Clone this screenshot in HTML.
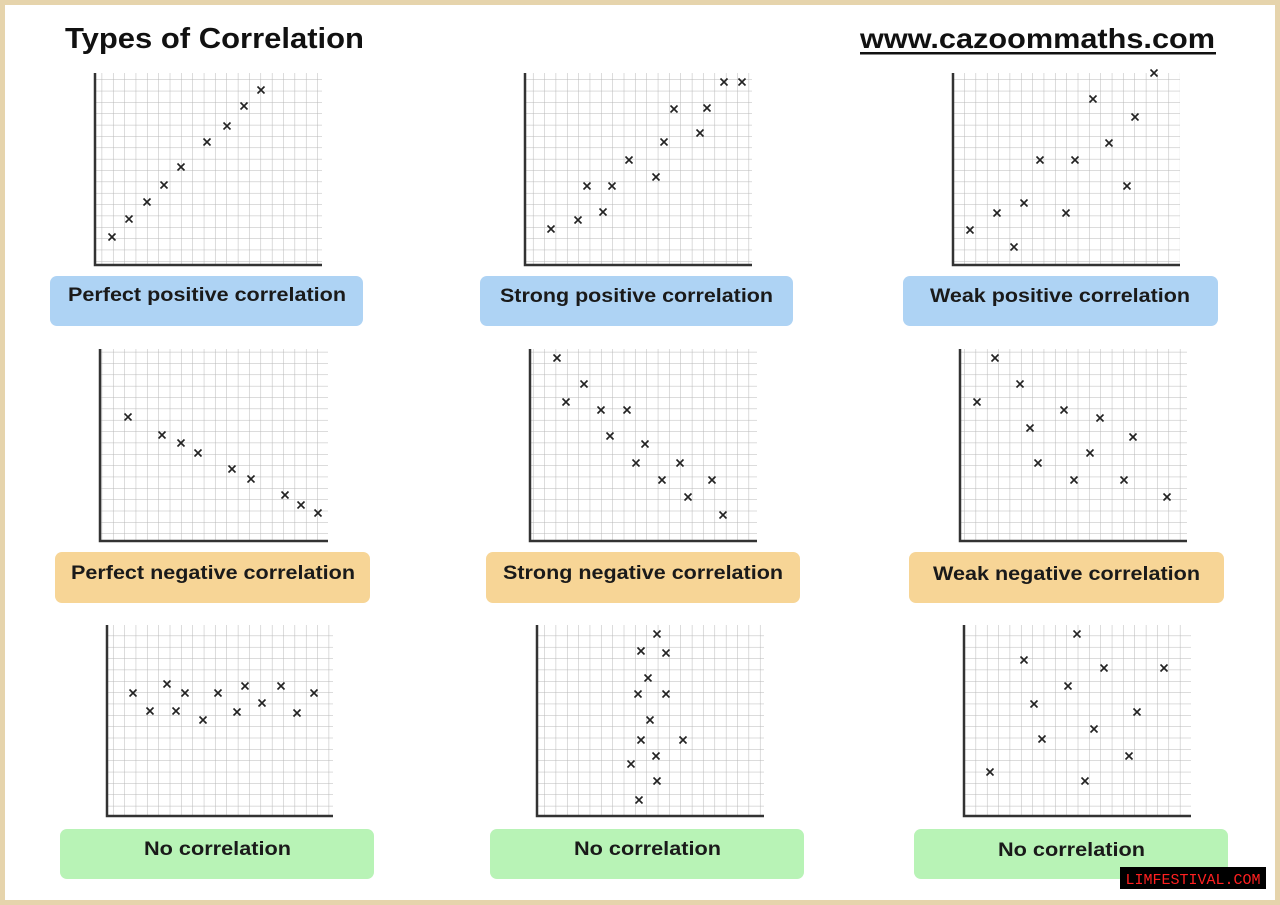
<!DOCTYPE html>
<html><head><meta charset="utf-8"><style>
html,body{margin:0;padding:0;}
body{width:1280px;height:905px;overflow:hidden;background:#fff;}
</style></head><body>
<svg width="1280" height="905" xmlns="http://www.w3.org/2000/svg" style="display:block">
<defs>
<pattern id="g" width="11.35" height="11.35" patternUnits="userSpaceOnUse">
<path d="M11.35 0V11.35M0 0H11.35" fill="none" stroke="#b8b8b8" stroke-width="1"/>
</pattern>
<g id="x"><path d="M-3.5 -3.5L3.5 3.5M-3.5 3.5L3.5 -3.5" stroke="#222" stroke-width="1.6"/></g>
</defs>
<rect x="0" y="0" width="1280" height="905" fill="#e6d4ac"/>
<rect x="5" y="5" width="1270" height="895" fill="#fff"/>
<g font-family="Liberation Sans, sans-serif" font-weight="bold">
<text x="65" y="48" font-size="29" fill="#111" textLength="299" lengthAdjust="spacingAndGlyphs">Types of Correlation</text>
<text x="860" y="48" font-size="28" fill="#111" textLength="355" lengthAdjust="spacingAndGlyphs">www.cazoommaths.com</text>
<rect x="860" y="52" width="356" height="2.5" fill="#111"/>
</g>
<g>
<rect x="95" y="73" width="227" height="192" fill="url(#g)"/>
<rect x="525" y="73" width="227" height="192" fill="url(#g)"/>
<rect x="953" y="73" width="227" height="192" fill="url(#g)"/>
<rect x="100" y="349" width="228" height="192" fill="url(#g)"/>
<rect x="530" y="349" width="227" height="192" fill="url(#g)"/>
<rect x="960" y="349" width="227" height="192" fill="url(#g)"/>
<rect x="107" y="625" width="226" height="191" fill="url(#g)"/>
<rect x="537" y="625" width="227" height="191" fill="url(#g)"/>
<rect x="964" y="625" width="227" height="191" fill="url(#g)"/>
</g>
<g fill="none" stroke="#333" stroke-width="2.5">
<path d="M95 73V265H322"/><path d="M525 73V265H752"/><path d="M953 73V265H1180"/>
<path d="M100 349V541H328"/><path d="M530 349V541H757"/><path d="M960 349V541H1187"/>
<path d="M107 625V816H333"/><path d="M537 625V816H764"/><path d="M964 625V816H1191"/>
</g>
<g>
<rect x="50" y="276" width="313" height="50" rx="7" fill="#aed3f4"/>
<rect x="480" y="276" width="313" height="50" rx="7" fill="#aed3f4"/>
<rect x="903" y="276" width="315" height="50" rx="7" fill="#aed3f4"/>
<rect x="55" y="552" width="315" height="51" rx="7" fill="#f7d596"/>
<rect x="486" y="552" width="314" height="51" rx="7" fill="#f7d596"/>
<rect x="909" y="552" width="315" height="51" rx="7" fill="#f7d596"/>
<rect x="60" y="829" width="314" height="50" rx="7" fill="#b8f3b6"/>
<rect x="490" y="829" width="314" height="50" rx="7" fill="#b8f3b6"/>
<rect x="914" y="829" width="314" height="50" rx="7" fill="#b8f3b6"/>
</g>
<g font-family="Liberation Sans, sans-serif" font-weight="bold" font-size="19" fill="#1a1a1a" lengthAdjust="spacingAndGlyphs">
<text x="68" y="301" textLength="278" lengthAdjust="spacingAndGlyphs">Perfect positive correlation</text>
<text x="500" y="302" textLength="273" lengthAdjust="spacingAndGlyphs">Strong positive correlation</text>
<text x="930" y="302" textLength="260" lengthAdjust="spacingAndGlyphs">Weak positive correlation</text>
<text x="71" y="579" textLength="284" lengthAdjust="spacingAndGlyphs">Perfect negative correlation</text>
<text x="503" y="579" textLength="280" lengthAdjust="spacingAndGlyphs">Strong negative correlation</text>
<text x="933" y="580" textLength="267" lengthAdjust="spacingAndGlyphs">Weak negative correlation</text>
<text x="144" y="855" textLength="147" lengthAdjust="spacingAndGlyphs">No correlation</text>
<text x="574" y="855" textLength="147" lengthAdjust="spacingAndGlyphs">No correlation</text>
<text x="998" y="856" textLength="147" lengthAdjust="spacingAndGlyphs">No correlation</text>
</g>
<g>
<use href="#x" x="112" y="237"/><use href="#x" x="129" y="219"/><use href="#x" x="147" y="202"/><use href="#x" x="164" y="185"/><use href="#x" x="181" y="167"/><use href="#x" x="207" y="142"/><use href="#x" x="227" y="126"/><use href="#x" x="244" y="106"/><use href="#x" x="261" y="90"/>
<use href="#x" x="551" y="229"/><use href="#x" x="578" y="220"/><use href="#x" x="603" y="212"/><use href="#x" x="587" y="186"/><use href="#x" x="612" y="186"/><use href="#x" x="629" y="160"/><use href="#x" x="656" y="177"/><use href="#x" x="664" y="142"/><use href="#x" x="674" y="109"/><use href="#x" x="700" y="133"/><use href="#x" x="707" y="108"/><use href="#x" x="724" y="82"/><use href="#x" x="742" y="82"/>
<use href="#x" x="970" y="230"/><use href="#x" x="997" y="213"/><use href="#x" x="1014" y="247"/><use href="#x" x="1024" y="203"/><use href="#x" x="1040" y="160"/><use href="#x" x="1066" y="213"/><use href="#x" x="1075" y="160"/><use href="#x" x="1093" y="99"/><use href="#x" x="1109" y="143"/><use href="#x" x="1127" y="186"/><use href="#x" x="1135" y="117"/><use href="#x" x="1154" y="73"/>
<use href="#x" x="128" y="417"/><use href="#x" x="162" y="435"/><use href="#x" x="181" y="443"/><use href="#x" x="198" y="453"/><use href="#x" x="232" y="469"/><use href="#x" x="251" y="479"/><use href="#x" x="285" y="495"/><use href="#x" x="301" y="505"/><use href="#x" x="318" y="513"/>
<use href="#x" x="557" y="358"/><use href="#x" x="584" y="384"/><use href="#x" x="566" y="402"/><use href="#x" x="601" y="410"/><use href="#x" x="627" y="410"/><use href="#x" x="610" y="436"/><use href="#x" x="645" y="444"/><use href="#x" x="636" y="463"/><use href="#x" x="680" y="463"/><use href="#x" x="662" y="480"/><use href="#x" x="712" y="480"/><use href="#x" x="688" y="497"/><use href="#x" x="723" y="515"/>
<use href="#x" x="995" y="358"/><use href="#x" x="977" y="402"/><use href="#x" x="1020" y="384"/><use href="#x" x="1030" y="428"/><use href="#x" x="1064" y="410"/><use href="#x" x="1100" y="418"/><use href="#x" x="1133" y="437"/><use href="#x" x="1038" y="463"/><use href="#x" x="1090" y="453"/><use href="#x" x="1074" y="480"/><use href="#x" x="1124" y="480"/><use href="#x" x="1167" y="497"/>
<use href="#x" x="133" y="693"/><use href="#x" x="150" y="711"/><use href="#x" x="167" y="684"/><use href="#x" x="176" y="711"/><use href="#x" x="185" y="693"/><use href="#x" x="203" y="720"/><use href="#x" x="218" y="693"/><use href="#x" x="237" y="712"/><use href="#x" x="245" y="686"/><use href="#x" x="262" y="703"/><use href="#x" x="281" y="686"/><use href="#x" x="297" y="713"/><use href="#x" x="314" y="693"/>
<use href="#x" x="657" y="634"/><use href="#x" x="641" y="651"/><use href="#x" x="666" y="653"/><use href="#x" x="648" y="678"/><use href="#x" x="638" y="694"/><use href="#x" x="666" y="694"/><use href="#x" x="650" y="720"/><use href="#x" x="641" y="740"/><use href="#x" x="683" y="740"/><use href="#x" x="656" y="756"/><use href="#x" x="631" y="764"/><use href="#x" x="657" y="781"/><use href="#x" x="639" y="800"/>
<use href="#x" x="1077" y="634"/><use href="#x" x="1024" y="660"/><use href="#x" x="1104" y="668"/><use href="#x" x="1164" y="668"/><use href="#x" x="1068" y="686"/><use href="#x" x="1034" y="704"/><use href="#x" x="1137" y="712"/><use href="#x" x="1094" y="729"/><use href="#x" x="1042" y="739"/><use href="#x" x="1129" y="756"/><use href="#x" x="990" y="772"/><use href="#x" x="1085" y="781"/>
</g>
<rect x="1120" y="867" width="146" height="22" fill="#000"/>
<text x="1193" y="884" font-family="Liberation Mono, monospace" font-size="15" fill="#ff2020" text-anchor="middle">LIMFESTIVAL.COM</text>
</svg>
</body></html>
